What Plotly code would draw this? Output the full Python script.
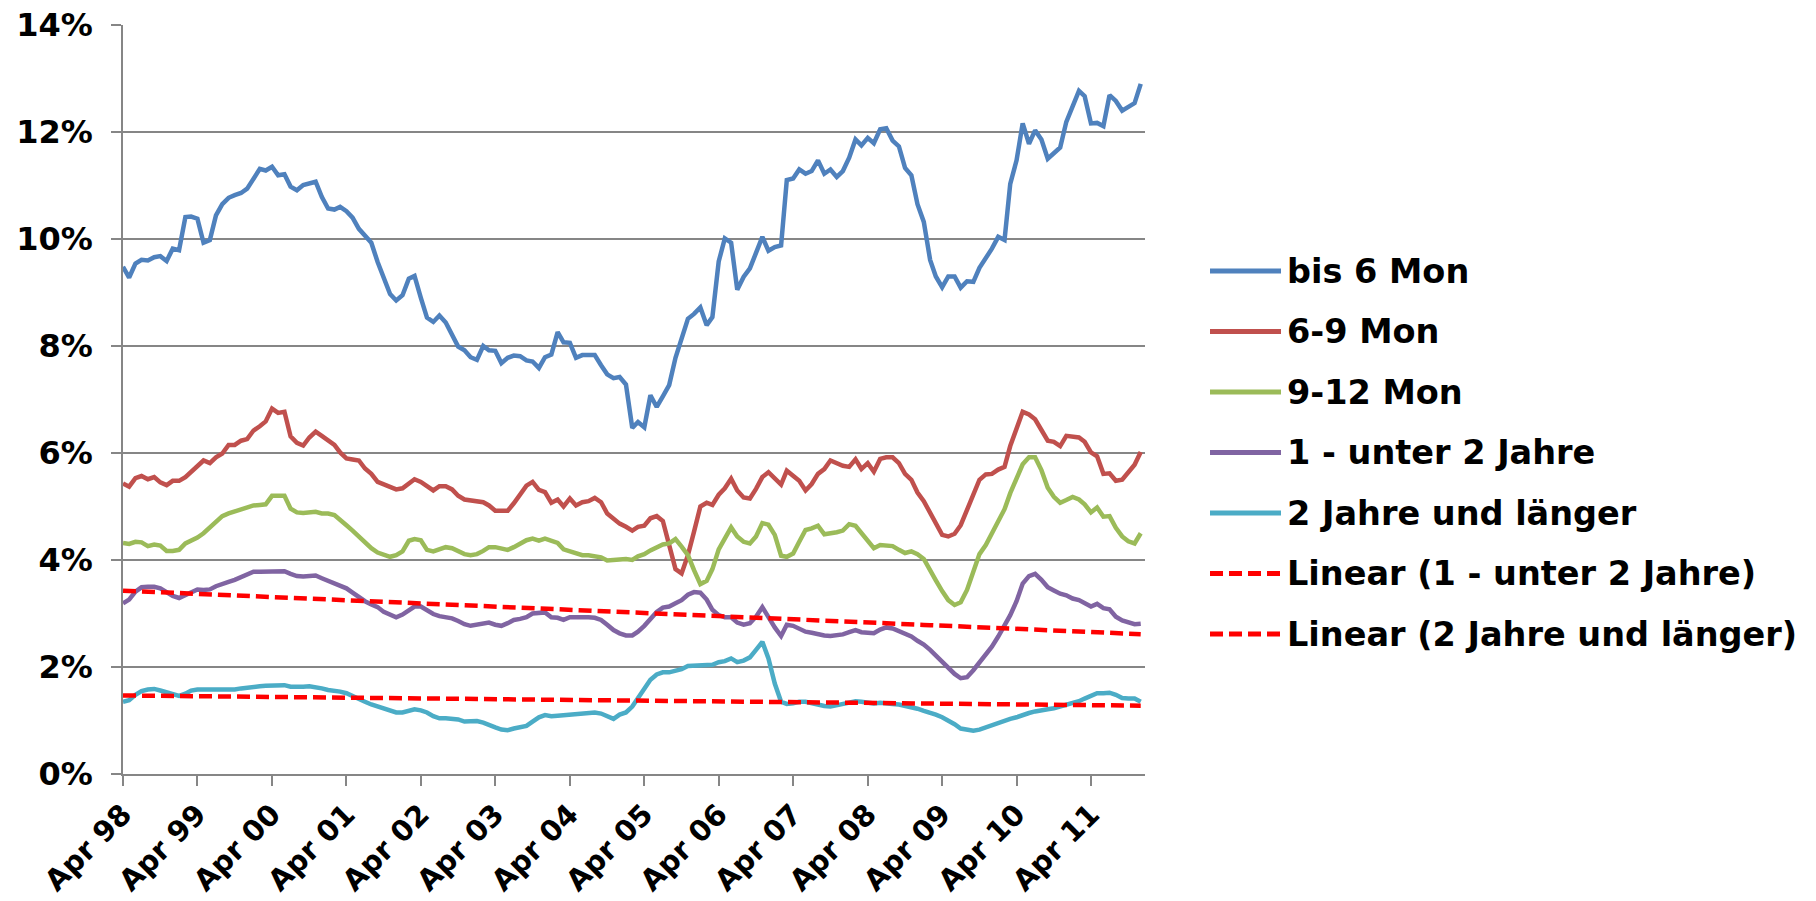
import numpy as np
import pandas as pd
import plotly.graph_objects as go

# Monthly shares (%) from April 1998 to December 2011
months = pd.date_range("1998-04-01", "2011-12-01", freq="MS")

bis_6_mon = [
    9.48, 9.28, 9.54, 9.61, 9.60, 9.66, 9.68, 9.59, 9.82, 9.79,
    10.41, 10.42, 10.38, 9.93, 9.98, 10.44, 10.65, 10.77, 10.82, 10.86,
    10.94, 11.13, 11.31, 11.28, 11.35, 11.19, 11.21, 10.98, 10.91, 11.01,
    11.05, 11.07, 10.79, 10.57, 10.55, 10.60, 10.52, 10.40, 10.19, 10.07,
    9.93, 9.57, 9.25, 8.97, 8.85, 8.95, 9.26, 9.31, 8.90, 8.53,
    8.45, 8.57, 8.44, 8.22, 7.99, 7.92, 7.79, 7.74, 8.00, 7.92,
    7.91, 7.68, 7.78, 7.82, 7.81, 7.73, 7.71, 7.59, 7.79, 7.84,
    8.26, 8.07, 8.06, 7.78, 7.83, 7.83, 7.83, 7.64, 7.47, 7.40,
    7.42, 7.28, 6.47, 6.58, 6.48, 7.08, 6.86, 7.06, 7.27, 7.78,
    8.16, 8.51, 8.60, 8.72, 8.39, 8.54, 9.58, 10.01, 9.93, 9.05,
    9.29, 9.45, 9.74, 10.04, 9.78, 9.85, 9.88, 11.10, 11.13, 11.30,
    11.22, 11.27, 11.47, 11.22, 11.30, 11.16, 11.27, 11.52, 11.86, 11.75,
    11.89, 11.79, 12.05, 12.07, 11.84, 11.73, 11.33, 11.19, 10.65, 10.32,
    9.61, 9.30, 9.10, 9.30, 9.30, 9.09, 9.21, 9.20, 9.46, 9.63,
    9.82, 10.04, 9.98, 11.03, 11.47, 12.16, 11.78, 12.03, 11.86, 11.50,
    11.60, 11.71, 12.19, 12.47, 12.77, 12.67, 12.16, 12.17, 12.11, 12.69,
    12.58, 12.40, 12.48, 12.54, 12.90,
]

mon_6_9 = [
    5.43, 5.37, 5.53, 5.57, 5.51, 5.55, 5.45, 5.40, 5.48, 5.48,
    5.55, 5.65, 5.78, 5.86, 5.81, 5.92, 5.99, 6.15, 6.15, 6.23,
    6.26, 6.42, 6.50, 6.59, 6.83, 6.75, 6.77, 6.31, 6.19, 6.14,
    6.29, 6.40, 6.32, 6.24, 6.15, 6.01, 5.90, 5.88, 5.86, 5.71,
    5.61, 5.46, 5.42, 5.36, 5.32, 5.34, 5.42, 5.51, 5.46, 5.37,
    5.30, 5.38, 5.38, 5.32, 5.20, 5.13, 5.11, 5.10, 5.08, 5.02,
    4.92, 4.92, 4.92, 5.06, 5.23, 5.39, 5.46, 5.31, 5.27, 5.07,
    5.13, 5.00, 5.15, 5.02, 5.08, 5.10, 5.16, 5.08, 4.87, 4.76,
    4.68, 4.62, 4.55, 4.62, 4.64, 4.78, 4.82, 4.73, 4.29, 3.83,
    3.75, 4.09, 4.53, 5.00, 5.07, 5.03, 5.22, 5.34, 5.52, 5.30,
    5.17, 5.15, 5.33, 5.55, 5.64, 5.53, 5.41, 5.67, 5.57, 5.48,
    5.30, 5.42, 5.61, 5.70, 5.86, 5.81, 5.76, 5.74, 5.88, 5.70,
    5.81, 5.65, 5.89, 5.92, 5.92, 5.81, 5.61, 5.50, 5.26, 5.10,
    4.88, 4.65, 4.47, 4.44, 4.49, 4.65, 4.95, 5.25, 5.50, 5.60,
    5.61, 5.69, 5.74, 6.13, 6.46, 6.77, 6.72, 6.63, 6.43, 6.23,
    6.21, 6.13, 6.32, 6.31, 6.29, 6.21, 6.01, 5.94, 5.61, 5.62,
    5.48, 5.50, 5.64, 5.78, 6.02,
]

mon_9_12 = [
    4.32, 4.30, 4.34, 4.33, 4.26, 4.29, 4.27, 4.17, 4.17, 4.19,
    4.31, 4.36, 4.42, 4.50, 4.60, 4.72, 4.82, 4.87, 4.91, 4.95,
    4.98, 5.02, 5.03, 5.04, 5.20, 5.20, 5.20, 4.96, 4.89, 4.88,
    4.88, 4.90, 4.87, 4.87, 4.84, 4.76, 4.65, 4.55, 4.44, 4.32,
    4.22, 4.14, 4.09, 4.06, 4.09, 4.16, 4.36, 4.39, 4.37, 4.19,
    4.16, 4.20, 4.24, 4.22, 4.16, 4.11, 4.09, 4.11, 4.17, 4.24,
    4.24, 4.21, 4.19, 4.24, 4.30, 4.37, 4.40, 4.36, 4.40, 4.35,
    4.32, 4.20, 4.16, 4.11, 4.09, 4.09, 4.07, 4.05, 3.99, 3.99,
    4.01, 4.02, 4.00, 4.07, 4.11, 4.18, 4.23, 4.29, 4.31, 4.39,
    4.25, 4.09, 3.81, 3.55, 3.61, 3.83, 4.20, 4.42, 4.61, 4.44,
    4.34, 4.31, 4.44, 4.69, 4.66, 4.47, 4.08, 4.06, 4.12, 4.34,
    4.56, 4.59, 4.64, 4.48, 4.49, 4.52, 4.55, 4.67, 4.64, 4.50,
    4.37, 4.22, 4.28, 4.27, 4.26, 4.19, 4.13, 4.16, 4.11, 4.02,
    3.83, 3.62, 3.42, 3.25, 3.16, 3.21, 3.44, 3.78, 4.11, 4.28,
    4.50, 4.73, 4.95, 5.25, 5.52, 5.79, 5.92, 5.92, 5.68, 5.35,
    5.18, 5.07, 5.12, 5.18, 5.13, 5.04, 4.89, 4.98, 4.81, 4.82,
    4.60, 4.44, 4.35, 4.31, 4.50,
]

jahre_1_2 = [
    3.19, 3.26, 3.41, 3.49, 3.50, 3.50, 3.47, 3.39, 3.33, 3.29,
    3.34, 3.40, 3.45, 3.44, 3.45, 3.51, 3.56, 3.59, 3.63, 3.68,
    3.74, 3.78, 3.78, 3.78, 3.78, 3.79, 3.79, 3.74, 3.70, 3.69,
    3.71, 3.71, 3.66, 3.61, 3.56, 3.53, 3.47, 3.39, 3.30, 3.23,
    3.17, 3.12, 3.03, 2.97, 2.93, 2.98, 3.05, 3.13, 3.13, 3.06,
    2.99, 2.95, 2.93, 2.91, 2.86, 2.80, 2.77, 2.79, 2.82, 2.83,
    2.79, 2.77, 2.82, 2.88, 2.90, 2.93, 3.00, 3.02, 3.02, 2.93,
    2.92, 2.88, 2.93, 2.93, 2.94, 2.93, 2.92, 2.88, 2.79, 2.69,
    2.63, 2.59, 2.59, 2.66, 2.77, 2.90, 3.03, 3.11, 3.13, 3.19,
    3.25, 3.35, 3.40, 3.39, 3.26, 3.07, 2.97, 2.93, 2.93, 2.83,
    2.79, 2.82, 2.94, 3.12, 2.93, 2.74, 2.58, 2.79, 2.77, 2.71,
    2.66, 2.64, 2.61, 2.59, 2.58, 2.59, 2.61, 2.65, 2.69, 2.65,
    2.63, 2.63, 2.70, 2.74, 2.72, 2.67, 2.60, 2.57, 2.49, 2.42,
    2.32, 2.21, 2.11, 1.99, 1.87, 1.79, 1.81, 1.94, 2.08, 2.21,
    2.38, 2.57, 2.77, 2.97, 3.23, 3.56, 3.70, 3.74, 3.63, 3.49,
    3.43, 3.37, 3.34, 3.28, 3.25, 3.20, 3.13, 3.18, 3.10, 3.08,
    2.94, 2.87, 2.83, 2.80, 2.81,
]

jahre_2_plus = [
    1.35, 1.38, 1.48, 1.55, 1.58, 1.59, 1.56, 1.52, 1.49, 1.46,
    1.50, 1.56, 1.58, 1.58, 1.56, 1.56, 1.56, 1.57, 1.58, 1.60,
    1.62, 1.64, 1.64, 1.65, 1.66, 1.66, 1.66, 1.63, 1.62, 1.63,
    1.64, 1.63, 1.60, 1.57, 1.56, 1.54, 1.51, 1.45, 1.40, 1.35,
    1.30, 1.26, 1.21, 1.17, 1.15, 1.15, 1.18, 1.21, 1.19, 1.15,
    1.08, 1.04, 1.04, 1.03, 1.02, 0.98, 0.98, 0.99, 0.96, 0.91,
    0.87, 0.83, 0.82, 0.85, 0.87, 0.90, 0.98, 1.06, 1.10, 1.08,
    1.09, 1.10, 1.12, 1.12, 1.13, 1.15, 1.15, 1.13, 1.08, 1.03,
    1.11, 1.15, 1.26, 1.41, 1.60, 1.76, 1.86, 1.90, 1.90, 1.92,
    1.96, 2.02, 2.02, 2.04, 2.04, 2.04, 2.09, 2.11, 2.16, 2.09,
    2.12, 2.18, 2.32, 2.47, 2.16, 1.69, 1.35, 1.31, 1.32, 1.35,
    1.35, 1.32, 1.30, 1.27, 1.26, 1.28, 1.30, 1.32, 1.36, 1.35,
    1.33, 1.32, 1.33, 1.33, 1.31, 1.30, 1.28, 1.25, 1.22, 1.18,
    1.15, 1.11, 1.06, 1.00, 0.93, 0.85, 0.82, 0.81, 0.83, 0.87,
    0.91, 0.97, 1.01, 1.03, 1.06, 1.11, 1.14, 1.17, 1.20, 1.21,
    1.23, 1.26, 1.28, 1.32, 1.36, 1.41, 1.45, 1.51, 1.51, 1.52,
    1.48, 1.42, 1.41, 1.41, 1.35,
]

series_names = ["bis 6 Mon", "6-9 Mon", "9-12 Mon", "1 - unter 2 Jahre", "2 Jahre und länger"]
series_values = [bis_6_mon, mon_6_9, mon_9_12, jahre_1_2, jahre_2_plus]
series_colors = ["#4F81BD", "#C0504D", "#9BBB59", "#8064A2", "#4BACC6"]

trend_names = ["Linear (1 - unter 2 Jahre)", "Linear (2 Jahre und länger)"]
trend_sources = [jahre_1_2, jahre_2_plus]
trend_color = "#FF0000"
trend_dash = "13px,6px"

tick_dates = pd.date_range("1998-04-01", "2011-04-01", freq="12MS")
tick_labels = ["Apr 98", "Apr 99", "Apr 00", "Apr 01", "Apr 02", "Apr 03", "Apr 04",
               "Apr 05", "Apr 06", "Apr 07", "Apr 08", "Apr 09", "Apr 10", "Apr 11"]

FONT = "DejaVu Sans"
GRID = "#868686"

fig = go.Figure()

for name, vals, col in zip(series_names, series_values, series_colors):
    fig.add_trace(go.Scatter(
        x=months, y=vals, name=name, mode="lines",
        line=dict(color=col, width=4.5, shape="linear"),
        showlegend=False,
    ))

# Least-squares linear trends over the month index
idx = np.arange(len(months))
for name, src in zip(trend_names, trend_sources):
    slope, intercept = np.polyfit(idx, np.asarray(src), 1)
    fig.add_trace(go.Scatter(
        x=months, y=slope * idx + intercept, name=name, mode="lines",
        line=dict(color=trend_color, width=4.5, dash=trend_dash),
        showlegend=False,
    ))

# Hand-built legend to the right of the plot area
W, H = 1816, 901
L, R, T, B = 123, 1145, 25, 774
pw, ph = R - L, B - T


def px_x(x):
    return (x - L) / pw


def px_y(y):
    return (B - y) / ph


legend_names = series_names + trend_names
legend_colors = series_colors + [trend_color, trend_color]
legend_dash = [None] * 5 + [trend_dash, trend_dash]
y0, dy = 271, 60.5
for i, (nm, col, ds) in enumerate(zip(legend_names, legend_colors, legend_dash)):
    yy = px_y(y0 + i * dy)
    line = dict(color=col, width=5)
    if ds:
        line["dash"] = ds
    fig.add_shape(type="line", xref="paper", yref="paper",
                  x0=px_x(1210), x1=px_x(1281), y0=yy, y1=yy, line=line)
    fig.add_annotation(xref="paper", yref="paper", x=px_x(1285), y=yy,
                       xanchor="left", yanchor="middle", showarrow=False,
                       text=nm, font=dict(family=FONT, size=33.5, color="black", weight="bold"))

fig.update_layout(
    width=W, height=H,
    margin=dict(l=L, r=W - R, t=T, b=H - B, pad=0, autoexpand=False),
    paper_bgcolor="white", plot_bgcolor="white",
    font=dict(family=FONT, color="black"),
)

fig.update_xaxes(
    type="date", automargin=False,
    range=["1998-04-01", "2011-12-22"],
    tickvals=tick_dates, ticktext=tick_labels, tickangle=-45,
    tickfont=dict(family=FONT, size=29, color="black", weight="bold"),
    showgrid=False, zeroline=False,
    showline=True, linecolor=GRID, linewidth=1.5,
    ticks="outside", ticklen=10, tickwidth=1.5, tickcolor=GRID,
)

fig.update_yaxes(
    automargin=False,
    range=[0, 14], dtick=2, tick0=0, ticksuffix="%",
    tickfont=dict(family=FONT, size=32, color="black", weight="bold"),
    showgrid=True, gridcolor=GRID, gridwidth=1.5,
    zeroline=False, showline=True, linecolor=GRID, linewidth=1.5,
    ticks="outside", ticklen=10, tickwidth=1.5, tickcolor=GRID,
    ticklabelstandoff=12,
)

fig.write_html("out.html")
